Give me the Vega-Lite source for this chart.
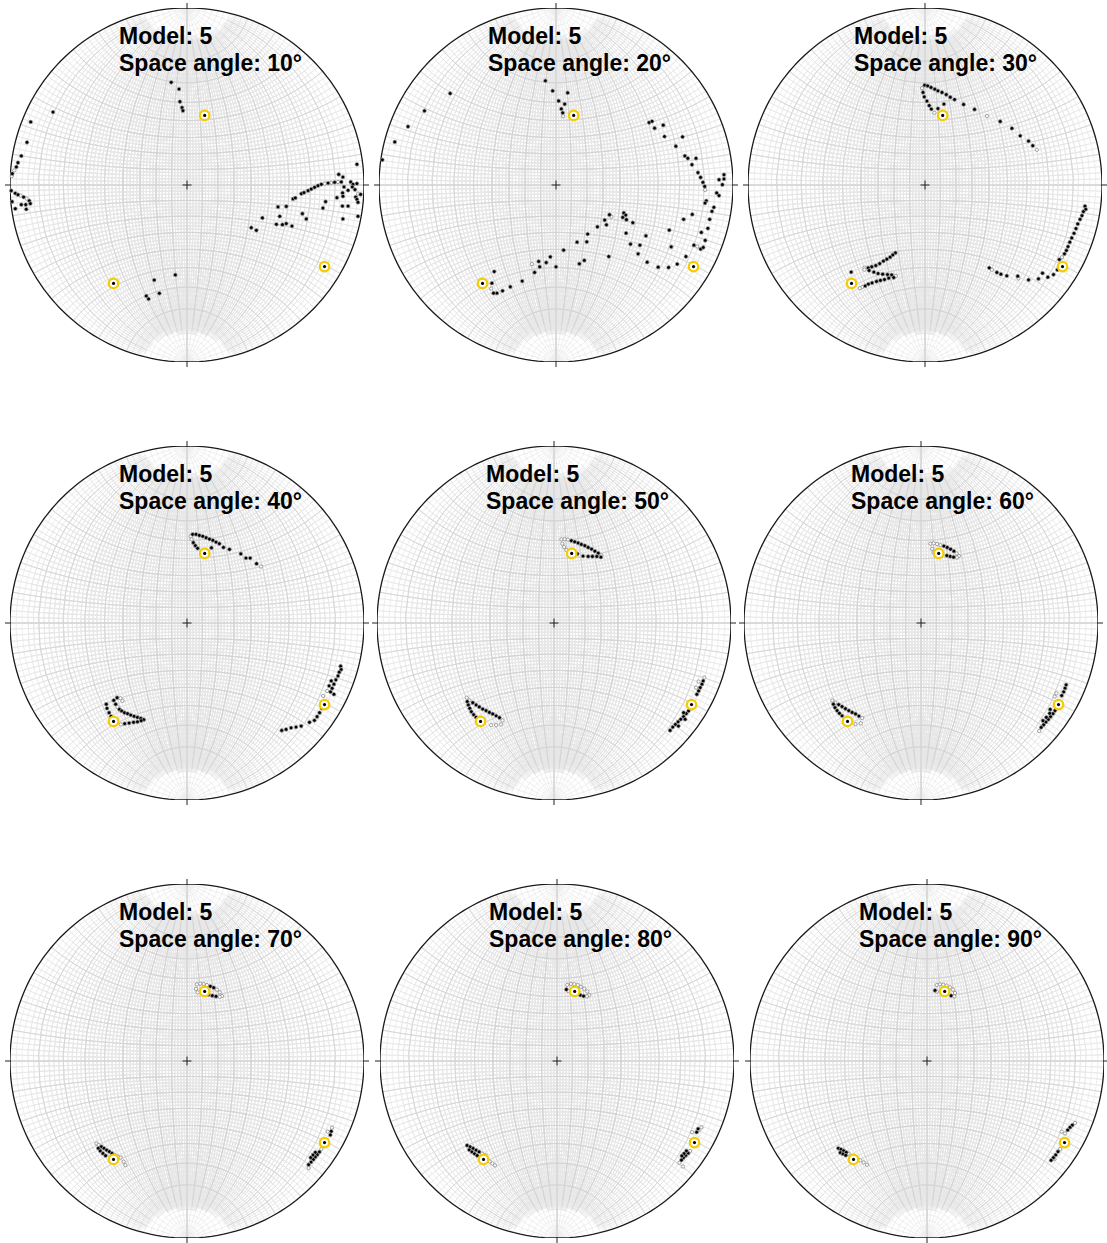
{
  "$schema": "https://vega.github.io/schema/vega-lite/v6.json",
  "background": "white",
  "padding": {"left": 3, "top": 1, "right": 0, "bottom": 0},
  "config": {"view": {"stroke": null}},
  "datasets": {
    "targets": [
      {"x": 0.100, "y": 0.393},
      {"x": -0.415, "y": -0.556},
      {"x": 0.777, "y": -0.461}
    ],
    "frame": [
      {"d": "N", "x": 0, "y": 1},
      {"d": "S", "x": 0, "y": -1},
      {"d": "W", "x": -1, "y": 0},
      {"d": "E", "x": 1, "y": 0},
      {"d": "C", "x": 0, "y": 0}
    ],
    "pts": [
      {"p":10,"x":-0.089,"y":0.580,"k":"b"},{"p":10,"x":-0.045,"y":0.542,"k":"b"},{"p":10,"x":-0.040,"y":0.471,"k":"b"},{"p":10,"x":-0.028,"y":0.437,"k":"b"},{"p":10,"x":-0.023,"y":0.420,"k":"b"},
      {"p":10,"x":-0.757,"y":0.412,"k":"b"},{"p":10,"x":-0.883,"y":0.356,"k":"b"},{"p":10,"x":-0.904,"y":0.241,"k":"b"},{"p":10,"x":-0.936,"y":0.164,"k":"b"},{"p":10,"x":-0.955,"y":0.126,"k":"b"},{"p":10,"x":-0.964,"y":0.102,"k":"b"},{"p":10,"x":-0.976,"y":0.083,"k":"g"},{"p":10,"x":-0.987,"y":0.064,"k":"b"},{"p":10,"x":-0.990,"y":0.050,"k":"g"},
      {"p":10,"x":-0.993,"y":-0.032,"k":"b"},{"p":10,"x":-0.970,"y":-0.047,"k":"b"},{"p":10,"x":-0.955,"y":-0.055,"k":"b"},{"p":10,"x":-0.940,"y":-0.060,"k":"g"},{"p":10,"x":-0.923,"y":-0.068,"k":"b"},{"p":10,"x":-0.906,"y":-0.077,"k":"g"},{"p":10,"x":-0.891,"y":-0.089,"k":"b"},{"p":10,"x":-0.885,"y":-0.105,"k":"b"},{"p":10,"x":-0.911,"y":-0.111,"k":"b"},{"p":10,"x":-0.936,"y":-0.111,"k":"b"},{"p":10,"x":-0.908,"y":-0.137,"k":"b"},{"p":10,"x":-0.970,"y":-0.134,"k":"b"},{"p":10,"x":-0.988,"y":-0.094,"k":"b"},
      {"p":10,"x":0.960,"y":0.117,"k":"b"},{"p":10,"x":0.599,"y":-0.079,"k":"b"},{"p":10,"x":0.612,"y":-0.073,"k":"b"},{"p":10,"x":0.646,"y":-0.049,"k":"b"},{"p":10,"x":0.661,"y":-0.043,"k":"b"},{"p":10,"x":0.684,"y":-0.032,"k":"b"},{"p":10,"x":0.702,"y":-0.023,"k":"b"},{"p":10,"x":0.721,"y":-0.013,"k":"b"},{"p":10,"x":0.740,"y":-0.004,"k":"b"},{"p":10,"x":0.759,"y":0.004,"k":"b"},{"p":10,"x":0.778,"y":0.008,"k":"g"},{"p":10,"x":0.797,"y":0.011,"k":"b"},{"p":10,"x":0.815,"y":0.013,"k":"g"},{"p":10,"x":0.834,"y":0.015,"k":"b"},{"p":10,"x":0.853,"y":0.017,"k":"g"},{"p":10,"x":0.872,"y":0.017,"k":"b"},
      {"p":10,"x":0.857,"y":0.060,"k":"b"},{"p":10,"x":0.881,"y":0.045,"k":"b"},{"p":10,"x":0.925,"y":0.017,"k":"b"},{"p":10,"x":0.938,"y":0.004,"k":"b"},{"p":10,"x":0.960,"y":0.008,"k":"b"},{"p":10,"x":0.934,"y":-0.011,"k":"b"},{"p":10,"x":0.949,"y":-0.026,"k":"b"},{"p":10,"x":0.966,"y":-0.049,"k":"g"},{"p":10,"x":0.981,"y":-0.053,"k":"b"},{"p":10,"x":0.953,"y":-0.068,"k":"b"},{"p":10,"x":0.960,"y":-0.081,"k":"b"},{"p":10,"x":0.966,"y":-0.098,"k":"b"},{"p":10,"x":0.966,"y":-0.177,"k":"b"},
      {"p":10,"x":0.887,"y":-0.011,"k":"b"},{"p":10,"x":0.910,"y":-0.030,"k":"b"},{"p":10,"x":0.879,"y":-0.045,"k":"b"},{"p":10,"x":0.847,"y":-0.072,"k":"b"},{"p":10,"x":0.881,"y":-0.064,"k":"b"},{"p":10,"x":0.783,"y":-0.094,"k":"b"},{"p":10,"x":0.768,"y":-0.130,"k":"b"},{"p":10,"x":0.878,"y":-0.119,"k":"b"},{"p":10,"x":0.910,"y":-0.119,"k":"b"},{"p":10,"x":0.881,"y":-0.192,"k":"b"},
      {"p":10,"x":0.514,"y":-0.124,"k":"b"},{"p":10,"x":0.561,"y":-0.121,"k":"b"},{"p":10,"x":0.524,"y":-0.177,"k":"b"},{"p":10,"x":0.652,"y":-0.162,"k":"b"},{"p":10,"x":0.674,"y":-0.192,"k":"b"},{"p":10,"x":0.505,"y":-0.222,"k":"b"},{"p":10,"x":0.539,"y":-0.224,"k":"b"},{"p":10,"x":0.561,"y":-0.218,"k":"b"},{"p":10,"x":0.593,"y":-0.232,"k":"b"},{"p":10,"x":0.426,"y":-0.186,"k":"b"},{"p":10,"x":0.363,"y":-0.241,"k":"b"},{"p":10,"x":0.392,"y":-0.256,"k":"b"},
      {"p":10,"x":-0.066,"y":-0.508,"k":"b"},{"p":10,"x":-0.185,"y":-0.537,"k":"b"},{"p":10,"x":-0.156,"y":-0.612,"k":"b"},{"p":10,"x":-0.230,"y":-0.627,"k":"b"},{"p":10,"x":-0.217,"y":-0.644,"k":"b"},

      {"p":20,"x":-0.060,"y":0.589,"k":"b"},{"p":20,"x":-0.019,"y":0.532,"k":"b"},{"p":20,"x":0.066,"y":0.521,"k":"b"},{"p":20,"x":0.015,"y":0.475,"k":"b"},{"p":20,"x":0.049,"y":0.457,"k":"b"},{"p":20,"x":0.030,"y":0.430,"k":"b"},{"p":20,"x":0.038,"y":0.408,"k":"b"},{"p":20,"x":0.040,"y":0.389,"k":"g"},
      {"p":20,"x":-0.598,"y":0.517,"k":"b"},{"p":20,"x":-0.743,"y":0.419,"k":"b"},{"p":20,"x":-0.836,"y":0.330,"k":"b"},{"p":20,"x":-0.911,"y":0.243,"k":"b"},{"p":20,"x":-0.981,"y":0.142,"k":"b"},
      {"p":20,"x":0.526,"y":0.353,"k":"b"},{"p":20,"x":0.543,"y":0.360,"k":"b"},{"p":20,"x":0.557,"y":0.321,"k":"b"},{"p":20,"x":0.606,"y":0.338,"k":"b"},{"p":20,"x":0.613,"y":0.274,"k":"b"},{"p":20,"x":0.715,"y":0.272,"k":"b"},{"p":20,"x":0.677,"y":0.219,"k":"b"},{"p":20,"x":0.728,"y":0.164,"k":"b"},{"p":20,"x":0.745,"y":0.151,"k":"b"},{"p":20,"x":0.791,"y":0.151,"k":"b"},{"p":20,"x":0.768,"y":0.115,"k":"b"},{"p":20,"x":0.802,"y":0.070,"k":"b"},{"p":20,"x":0.817,"y":0.043,"k":"b"},{"p":20,"x":0.830,"y":0.015,"k":"b"},{"p":20,"x":0.840,"y":-0.008,"k":"b"},{"p":20,"x":0.843,"y":-0.028,"k":"g"},{"p":20,"x":0.849,"y":-0.089,"k":"b"},{"p":20,"x":0.842,"y":-0.102,"k":"b"},{"p":20,"x":0.892,"y":-0.126,"k":"b"},{"p":20,"x":0.881,"y":-0.149,"k":"b"},
      {"p":20,"x":0.949,"y":0.058,"k":"b"},{"p":20,"x":0.949,"y":0.034,"k":"b"},{"p":20,"x":0.921,"y":0.030,"k":"b"},{"p":20,"x":0.940,"y":0.002,"k":"b"},{"p":20,"x":0.908,"y":-0.045,"k":"b"},{"p":20,"x":0.921,"y":-0.060,"k":"b"},
      {"p":20,"x":0.721,"y":-0.194,"k":"b"},{"p":20,"x":0.770,"y":-0.166,"k":"b"},{"p":20,"x":0.868,"y":-0.194,"k":"b"},{"p":20,"x":0.858,"y":-0.245,"k":"b"},{"p":20,"x":0.640,"y":-0.255,"k":"b"},{"p":20,"x":0.843,"y":-0.313,"k":"b"},{"p":20,"x":0.821,"y":-0.268,"k":"b"},{"p":20,"x":0.779,"y":-0.340,"k":"b"},{"p":20,"x":0.798,"y":-0.347,"k":"g"},{"p":20,"x":0.817,"y":-0.362,"k":"b"},{"p":20,"x":0.832,"y":-0.353,"k":"b"},{"p":20,"x":0.651,"y":-0.349,"k":"b"},{"p":20,"x":0.734,"y":-0.404,"k":"b"},{"p":20,"x":0.685,"y":-0.447,"k":"b"},{"p":20,"x":0.636,"y":-0.466,"k":"b"},{"p":20,"x":0.577,"y":-0.464,"k":"b"},{"p":20,"x":0.515,"y":-0.436,"k":"b"},
      {"p":20,"x":0.302,"y":-0.168,"k":"b"},{"p":20,"x":0.313,"y":-0.179,"k":"g"},{"p":20,"x":0.383,"y":-0.158,"k":"b"},{"p":20,"x":0.394,"y":-0.170,"k":"b"},{"p":20,"x":0.377,"y":-0.183,"k":"b"},{"p":20,"x":0.398,"y":-0.196,"k":"b"},{"p":20,"x":0.275,"y":-0.198,"k":"b"},{"p":20,"x":0.285,"y":-0.225,"k":"b"},{"p":20,"x":0.234,"y":-0.236,"k":"b"},{"p":20,"x":0.434,"y":-0.213,"k":"b"},{"p":20,"x":0.396,"y":-0.272,"k":"b"},{"p":20,"x":0.508,"y":-0.287,"k":"b"},{"p":20,"x":0.421,"y":-0.334,"k":"b"},{"p":20,"x":0.474,"y":-0.340,"k":"b"},{"p":20,"x":0.464,"y":-0.389,"k":"b"},
      {"p":20,"x":0.179,"y":-0.277,"k":"b"},{"p":20,"x":0.119,"y":-0.323,"k":"b"},{"p":20,"x":0.174,"y":-0.321,"k":"b"},{"p":20,"x":0.298,"y":-0.404,"k":"b"},{"p":20,"x":0.160,"y":-0.426,"k":"b"},{"p":20,"x":0.132,"y":-0.445,"k":"b"},{"p":20,"x":0.043,"y":-0.368,"k":"b"},{"p":20,"x":-0.032,"y":-0.406,"k":"b"},{"p":20,"x":-0.055,"y":-0.438,"k":"b"},{"p":20,"x":0.000,"y":-0.462,"k":"b"},{"p":20,"x":-0.092,"y":-0.462,"k":"b"},{"p":20,"x":-0.136,"y":-0.447,"k":"g"},{"p":20,"x":-0.098,"y":-0.432,"k":"b"},{"p":20,"x":-0.121,"y":-0.494,"k":"b"},{"p":20,"x":-0.191,"y":-0.543,"k":"b"},{"p":20,"x":-0.258,"y":-0.575,"k":"b"},{"p":20,"x":-0.302,"y":-0.598,"k":"b"},{"p":20,"x":-0.334,"y":-0.611,"k":"b"},{"p":20,"x":-0.353,"y":-0.611,"k":"b"},{"p":20,"x":-0.366,"y":-0.585,"k":"g"},{"p":20,"x":-0.362,"y":-0.555,"k":"b"},{"p":20,"x":-0.349,"y":-0.489,"k":"b"},

      {"p":30,"x":-0.017,"y":0.547,"k":"g"},{"p":30,"x":-0.002,"y":0.564,"k":"b"},{"p":30,"x":0.015,"y":0.560,"k":"b"},{"p":30,"x":0.034,"y":0.551,"k":"b"},{"p":30,"x":0.055,"y":0.541,"k":"b"},{"p":30,"x":0.073,"y":0.532,"k":"b"},{"p":30,"x":0.096,"y":0.523,"k":"b"},{"p":30,"x":0.120,"y":0.511,"k":"b"},{"p":30,"x":0.143,"y":0.496,"k":"b"},{"p":30,"x":0.167,"y":0.483,"k":"b"},{"p":30,"x":0.218,"y":0.455,"k":"b"},{"p":30,"x":0.280,"y":0.427,"k":"b"},{"p":30,"x":0.350,"y":0.389,"k":"g"},{"p":30,"x":0.425,"y":0.359,"k":"b"},{"p":30,"x":0.491,"y":0.320,"k":"b"},{"p":30,"x":0.538,"y":0.278,"k":"b"},{"p":30,"x":0.585,"y":0.248,"k":"b"},{"p":30,"x":0.609,"y":0.222,"k":"b"},{"p":30,"x":0.632,"y":0.199,"k":"g"},
      {"p":30,"x":-0.011,"y":0.523,"k":"b"},{"p":30,"x":-0.004,"y":0.498,"k":"b"},{"p":30,"x":0.011,"y":0.474,"k":"b"},{"p":30,"x":0.024,"y":0.449,"k":"b"},{"p":30,"x":0.036,"y":0.429,"k":"b"},{"p":30,"x":0.053,"y":0.408,"k":"g"},{"p":30,"x":0.107,"y":0.457,"k":"b"},{"p":30,"x":0.073,"y":0.432,"k":"b"},
      {"p":30,"x":-0.167,"y":-0.383,"k":"b"},{"p":30,"x":-0.182,"y":-0.395,"k":"b"},{"p":30,"x":-0.197,"y":-0.408,"k":"b"},{"p":30,"x":-0.216,"y":-0.419,"k":"b"},{"p":30,"x":-0.235,"y":-0.430,"k":"b"},{"p":30,"x":-0.256,"y":-0.444,"k":"b"},{"p":30,"x":-0.278,"y":-0.455,"k":"b"},{"p":30,"x":-0.301,"y":-0.462,"k":"b"},{"p":30,"x":-0.321,"y":-0.468,"k":"b"},{"p":30,"x":-0.342,"y":-0.466,"k":"g"},{"p":30,"x":-0.417,"y":-0.492,"k":"b"},
      {"p":30,"x":-0.342,"y":-0.478,"k":"g"},{"p":30,"x":-0.316,"y":-0.483,"k":"b"},{"p":30,"x":-0.289,"y":-0.492,"k":"b"},{"p":30,"x":-0.265,"y":-0.500,"k":"b"},{"p":30,"x":-0.239,"y":-0.504,"k":"b"},{"p":30,"x":-0.212,"y":-0.506,"k":"b"},{"p":30,"x":-0.188,"y":-0.508,"k":"b"},{"p":30,"x":-0.165,"y":-0.513,"k":"g"},
      {"p":30,"x":-0.177,"y":-0.523,"k":"b"},{"p":30,"x":-0.205,"y":-0.526,"k":"b"},{"p":30,"x":-0.229,"y":-0.534,"k":"b"},{"p":30,"x":-0.252,"y":-0.539,"k":"b"},{"p":30,"x":-0.274,"y":-0.545,"k":"b"},{"p":30,"x":-0.299,"y":-0.553,"k":"b"},{"p":30,"x":-0.320,"y":-0.560,"k":"b"},{"p":30,"x":-0.338,"y":-0.570,"k":"b"},{"p":30,"x":-0.355,"y":-0.577,"k":"g"},{"p":30,"x":-0.368,"y":-0.583,"k":"g"},
      {"p":30,"x":0.904,"y":-0.120,"k":"b"},{"p":30,"x":0.908,"y":-0.137,"k":"b"},{"p":30,"x":0.895,"y":-0.150,"k":"b"},{"p":30,"x":0.887,"y":-0.173,"k":"b"},{"p":30,"x":0.876,"y":-0.194,"k":"b"},{"p":30,"x":0.863,"y":-0.220,"k":"b"},{"p":30,"x":0.853,"y":-0.246,"k":"b"},{"p":30,"x":0.842,"y":-0.273,"k":"b"},{"p":30,"x":0.829,"y":-0.299,"k":"b"},{"p":30,"x":0.818,"y":-0.323,"k":"b"},{"p":30,"x":0.808,"y":-0.348,"k":"b"},{"p":30,"x":0.799,"y":-0.370,"k":"b"},{"p":30,"x":0.788,"y":-0.389,"k":"b"},{"p":30,"x":0.774,"y":-0.408,"k":"g"},{"p":30,"x":0.759,"y":-0.421,"k":"b"},
      {"p":30,"x":0.363,"y":-0.468,"k":"b"},{"p":30,"x":0.378,"y":-0.479,"k":"g"},{"p":30,"x":0.406,"y":-0.494,"k":"b"},{"p":30,"x":0.429,"y":-0.504,"k":"b"},{"p":30,"x":0.462,"y":-0.513,"k":"b"},{"p":30,"x":0.524,"y":-0.515,"k":"b"},{"p":30,"x":0.528,"y":-0.528,"k":"g"},{"p":30,"x":0.585,"y":-0.536,"k":"b"},{"p":30,"x":0.641,"y":-0.530,"k":"b"},{"p":30,"x":0.664,"y":-0.498,"k":"b"},{"p":30,"x":0.694,"y":-0.521,"k":"b"},{"p":30,"x":0.726,"y":-0.506,"k":"b"},{"p":30,"x":0.748,"y":-0.479,"k":"b"},

      {"p":40,"x":0.021,"y":0.490,"k":"g"},{"p":40,"x":0.032,"y":0.501,"k":"b"},{"p":40,"x":0.051,"y":0.501,"k":"b"},{"p":40,"x":0.070,"y":0.495,"k":"b"},{"p":40,"x":0.089,"y":0.490,"k":"b"},{"p":40,"x":0.108,"y":0.482,"k":"b"},{"p":40,"x":0.127,"y":0.474,"k":"b"},{"p":40,"x":0.146,"y":0.467,"k":"b"},{"p":40,"x":0.164,"y":0.457,"k":"b"},{"p":40,"x":0.183,"y":0.448,"k":"b"},{"p":40,"x":0.206,"y":0.427,"k":"b"},{"p":40,"x":0.240,"y":0.416,"k":"b"},{"p":40,"x":0.304,"y":0.391,"k":"b"},{"p":40,"x":0.333,"y":0.367,"k":"b"},{"p":40,"x":0.357,"y":0.367,"k":"b"},{"p":40,"x":0.393,"y":0.335,"k":"b"},{"p":40,"x":0.418,"y":0.319,"k":"g"},
      {"p":40,"x":0.026,"y":0.473,"k":"g"},{"p":40,"x":0.036,"y":0.454,"k":"b"},{"p":40,"x":0.047,"y":0.437,"k":"b"},{"p":40,"x":0.060,"y":0.422,"k":"b"},{"p":40,"x":0.138,"y":0.425,"k":"b"},
      {"p":40,"x":-0.456,"y":-0.459,"k":"b"},{"p":40,"x":-0.452,"y":-0.482,"k":"b"},{"p":40,"x":-0.440,"y":-0.507,"k":"b"},{"p":40,"x":-0.429,"y":-0.527,"k":"b"},{"p":40,"x":-0.414,"y":-0.437,"k":"b"},{"p":40,"x":-0.395,"y":-0.422,"k":"b"},{"p":40,"x":-0.376,"y":-0.425,"k":"g"},{"p":40,"x":-0.365,"y":-0.440,"k":"g"},
      {"p":40,"x":-0.403,"y":-0.459,"k":"b"},{"p":40,"x":-0.393,"y":-0.474,"k":"g"},{"p":40,"x":-0.382,"y":-0.488,"k":"b"},{"p":40,"x":-0.369,"y":-0.497,"k":"b"},{"p":40,"x":-0.353,"y":-0.507,"k":"b"},{"p":40,"x":-0.336,"y":-0.512,"k":"b"},{"p":40,"x":-0.318,"y":-0.520,"k":"b"},{"p":40,"x":-0.299,"y":-0.527,"k":"b"},{"p":40,"x":-0.280,"y":-0.533,"k":"b"},{"p":40,"x":-0.261,"y":-0.539,"k":"b"},{"p":40,"x":-0.244,"y":-0.546,"k":"b"},
      {"p":40,"x":-0.374,"y":-0.573,"k":"g"},{"p":40,"x":-0.352,"y":-0.569,"k":"b"},{"p":40,"x":-0.327,"y":-0.565,"k":"b"},{"p":40,"x":-0.302,"y":-0.561,"k":"b"},{"p":40,"x":-0.280,"y":-0.558,"k":"b"},{"p":40,"x":-0.259,"y":-0.552,"k":"b"},
      {"p":40,"x":0.868,"y":-0.244,"k":"b"},{"p":40,"x":0.871,"y":-0.263,"k":"b"},{"p":40,"x":0.860,"y":-0.278,"k":"b"},{"p":40,"x":0.853,"y":-0.299,"k":"b"},{"p":40,"x":0.841,"y":-0.321,"k":"b"},{"p":40,"x":0.830,"y":-0.346,"k":"b"},{"p":40,"x":0.820,"y":-0.369,"k":"b"},{"p":40,"x":0.811,"y":-0.389,"k":"b"},{"p":40,"x":0.815,"y":-0.327,"k":"b"},{"p":40,"x":0.803,"y":-0.355,"k":"b"},{"p":40,"x":0.792,"y":-0.384,"k":"g"},{"p":40,"x":0.830,"y":-0.403,"k":"b"},{"p":40,"x":0.769,"y":-0.412,"k":"g"},
      {"p":40,"x":0.762,"y":-0.482,"k":"b"},{"p":40,"x":0.749,"y":-0.507,"k":"b"},{"p":40,"x":0.735,"y":-0.529,"k":"b"},{"p":40,"x":0.720,"y":-0.550,"k":"b"},{"p":40,"x":0.692,"y":-0.561,"k":"b"},{"p":40,"x":0.645,"y":-0.582,"k":"b"},{"p":40,"x":0.616,"y":-0.588,"k":"b"},{"p":40,"x":0.588,"y":-0.592,"k":"b"},{"p":40,"x":0.560,"y":-0.601,"k":"b"},{"p":40,"x":0.535,"y":-0.607,"k":"b"},

      {"p":50,"x":0.042,"y":0.473,"k":"g"},{"p":50,"x":0.060,"y":0.474,"k":"g"},{"p":50,"x":0.079,"y":0.471,"k":"g"},{"p":50,"x":0.098,"y":0.465,"k":"b"},{"p":50,"x":0.117,"y":0.459,"k":"b"},{"p":50,"x":0.136,"y":0.452,"k":"b"},{"p":50,"x":0.155,"y":0.444,"k":"b"},{"p":50,"x":0.174,"y":0.437,"k":"b"},{"p":50,"x":0.193,"y":0.427,"k":"b"},{"p":50,"x":0.212,"y":0.418,"k":"b"},{"p":50,"x":0.231,"y":0.406,"k":"b"},{"p":50,"x":0.250,"y":0.395,"k":"b"},{"p":50,"x":0.267,"y":0.382,"k":"g"},
      {"p":50,"x":0.047,"y":0.448,"k":"g"},{"p":50,"x":0.057,"y":0.429,"k":"g"},{"p":50,"x":0.070,"y":0.412,"k":"g"},{"p":50,"x":0.132,"y":0.391,"k":"b"},{"p":50,"x":0.164,"y":0.378,"k":"b"},{"p":50,"x":0.193,"y":0.376,"k":"b"},{"p":50,"x":0.217,"y":0.376,"k":"b"},{"p":50,"x":0.242,"y":0.376,"k":"b"},{"p":50,"x":0.265,"y":0.372,"k":"b"},
      {"p":50,"x":-0.493,"y":-0.422,"k":"g"},{"p":50,"x":-0.478,"y":-0.437,"k":"g"},{"p":50,"x":-0.459,"y":-0.450,"k":"b"},{"p":50,"x":-0.440,"y":-0.463,"k":"b"},{"p":50,"x":-0.422,"y":-0.474,"k":"b"},{"p":50,"x":-0.403,"y":-0.486,"k":"b"},{"p":50,"x":-0.384,"y":-0.495,"k":"b"},{"p":50,"x":-0.365,"y":-0.505,"k":"b"},{"p":50,"x":-0.346,"y":-0.514,"k":"b"},{"p":50,"x":-0.327,"y":-0.524,"k":"b"},{"p":50,"x":-0.308,"y":-0.535,"k":"b"},{"p":50,"x":-0.291,"y":-0.550,"k":"g"},
      {"p":50,"x":-0.490,"y":-0.444,"k":"b"},{"p":50,"x":-0.484,"y":-0.463,"k":"b"},{"p":50,"x":-0.476,"y":-0.482,"k":"b"},{"p":50,"x":-0.467,"y":-0.501,"k":"b"},{"p":50,"x":-0.454,"y":-0.518,"k":"b"},{"p":50,"x":-0.440,"y":-0.533,"k":"b"},{"p":50,"x":-0.355,"y":-0.577,"k":"g"},{"p":50,"x":-0.327,"y":-0.577,"k":"g"},{"p":50,"x":-0.299,"y":-0.573,"k":"g"},
      {"p":50,"x":0.849,"y":-0.308,"k":"g"},{"p":50,"x":0.843,"y":-0.327,"k":"b"},{"p":50,"x":0.836,"y":-0.346,"k":"b"},{"p":50,"x":0.826,"y":-0.365,"k":"b"},{"p":50,"x":0.817,"y":-0.384,"k":"b"},{"p":50,"x":0.807,"y":-0.403,"k":"b"},{"p":50,"x":0.817,"y":-0.331,"k":"g"},{"p":50,"x":0.803,"y":-0.365,"k":"g"},
      {"p":50,"x":0.779,"y":-0.482,"k":"b"},{"p":50,"x":0.760,"y":-0.497,"k":"b"},{"p":50,"x":0.747,"y":-0.512,"k":"b"},{"p":50,"x":0.732,"y":-0.529,"k":"b"},{"p":50,"x":0.716,"y":-0.544,"k":"b"},{"p":50,"x":0.701,"y":-0.558,"k":"b"},{"p":50,"x":0.686,"y":-0.573,"k":"b"},{"p":50,"x":0.671,"y":-0.588,"k":"b"},{"p":50,"x":0.656,"y":-0.607,"k":"b"},{"p":50,"x":0.732,"y":-0.507,"k":"b"},{"p":50,"x":0.741,"y":-0.544,"k":"b"},{"p":50,"x":0.703,"y":-0.582,"k":"b"},

      {"p":60,"x":0.053,"y":0.448,"k":"g"},{"p":60,"x":0.072,"y":0.450,"k":"g"},{"p":60,"x":0.091,"y":0.446,"k":"g"},{"p":60,"x":0.110,"y":0.440,"k":"g"},{"p":60,"x":0.129,"y":0.435,"k":"b"},{"p":60,"x":0.148,"y":0.427,"k":"b"},{"p":60,"x":0.167,"y":0.417,"k":"b"},{"p":60,"x":0.186,"y":0.406,"k":"b"},{"p":60,"x":0.201,"y":0.393,"k":"g"},{"p":60,"x":0.214,"y":0.378,"k":"g"},
      {"p":60,"x":0.063,"y":0.419,"k":"g"},{"p":60,"x":0.072,"y":0.397,"k":"g"},{"p":60,"x":0.146,"y":0.381,"k":"b"},{"p":60,"x":0.165,"y":0.376,"k":"b"},{"p":60,"x":0.184,"y":0.372,"k":"b"},{"p":60,"x":0.203,"y":0.370,"k":"g"},
      {"p":60,"x":-0.501,"y":-0.438,"k":"g"},{"p":60,"x":-0.484,"y":-0.450,"k":"g"},{"p":60,"x":-0.465,"y":-0.461,"k":"b"},{"p":60,"x":-0.446,"y":-0.472,"k":"b"},{"p":60,"x":-0.427,"y":-0.484,"k":"b"},{"p":60,"x":-0.408,"y":-0.495,"k":"b"},{"p":60,"x":-0.389,"y":-0.505,"k":"b"},{"p":60,"x":-0.370,"y":-0.514,"k":"b"},{"p":60,"x":-0.351,"y":-0.526,"k":"b"},{"p":60,"x":-0.332,"y":-0.537,"k":"g"},
      {"p":60,"x":-0.495,"y":-0.459,"k":"b"},{"p":60,"x":-0.486,"y":-0.478,"k":"b"},{"p":60,"x":-0.474,"y":-0.495,"k":"b"},{"p":60,"x":-0.461,"y":-0.510,"k":"b"},{"p":60,"x":-0.446,"y":-0.524,"k":"b"},{"p":60,"x":-0.370,"y":-0.571,"k":"g"},{"p":60,"x":-0.340,"y":-0.567,"k":"g"},
      {"p":60,"x":0.820,"y":-0.349,"k":"b"},{"p":60,"x":0.814,"y":-0.368,"k":"b"},{"p":60,"x":0.806,"y":-0.389,"k":"b"},{"p":60,"x":0.795,"y":-0.410,"k":"b"},{"p":60,"x":0.765,"y":-0.397,"k":"g"},{"p":60,"x":0.755,"y":-0.416,"k":"g"},
      {"p":60,"x":0.757,"y":-0.495,"k":"b"},{"p":60,"x":0.746,"y":-0.512,"k":"b"},{"p":60,"x":0.732,"y":-0.529,"k":"b"},{"p":60,"x":0.719,"y":-0.545,"k":"b"},{"p":60,"x":0.706,"y":-0.560,"k":"b"},{"p":60,"x":0.693,"y":-0.575,"k":"b"},{"p":60,"x":0.679,"y":-0.590,"k":"b"},{"p":60,"x":0.668,"y":-0.611,"k":"g"},{"p":60,"x":0.727,"y":-0.510,"k":"b"},{"p":60,"x":0.708,"y":-0.533,"k":"b"},{"p":60,"x":0.689,"y":-0.552,"k":"b"},{"p":60,"x":0.730,"y":-0.488,"k":"b"},

      {"p":70,"x":0.056,"y":0.433,"k":"g"},{"p":70,"x":0.075,"y":0.437,"k":"g"},{"p":70,"x":0.094,"y":0.435,"k":"g"},{"p":70,"x":0.113,"y":0.429,"k":"g"},{"p":70,"x":0.132,"y":0.422,"k":"b"},{"p":70,"x":0.151,"y":0.414,"k":"b"},{"p":70,"x":0.169,"y":0.403,"k":"g"},{"p":70,"x":0.185,"y":0.388,"k":"g"},{"p":70,"x":0.198,"y":0.367,"k":"g"},
      {"p":70,"x":0.051,"y":0.407,"k":"g"},{"p":70,"x":0.060,"y":0.388,"k":"g"},{"p":70,"x":0.122,"y":0.375,"k":"b"},{"p":70,"x":0.143,"y":0.369,"k":"b"},{"p":70,"x":0.164,"y":0.365,"k":"b"},{"p":70,"x":0.185,"y":0.362,"k":"g"},
      {"p":70,"x":-0.512,"y":-0.467,"k":"g"},{"p":70,"x":-0.499,"y":-0.475,"k":"g"},{"p":70,"x":-0.484,"y":-0.484,"k":"b"},{"p":70,"x":-0.469,"y":-0.493,"k":"b"},{"p":70,"x":-0.454,"y":-0.503,"k":"b"},{"p":70,"x":-0.439,"y":-0.512,"k":"b"},{"p":70,"x":-0.424,"y":-0.522,"k":"b"},{"p":70,"x":-0.409,"y":-0.531,"k":"g"},{"p":70,"x":-0.392,"y":-0.539,"k":"g"},{"p":70,"x":-0.375,"y":-0.546,"k":"g"},
      {"p":70,"x":-0.501,"y":-0.493,"k":"b"},{"p":70,"x":-0.490,"y":-0.508,"k":"b"},{"p":70,"x":-0.475,"y":-0.522,"k":"b"},{"p":70,"x":-0.460,"y":-0.535,"k":"b"},{"p":70,"x":-0.358,"y":-0.569,"k":"g"},{"p":70,"x":-0.348,"y":-0.588,"k":"g"},
      {"p":70,"x":0.819,"y":-0.377,"k":"g"},{"p":70,"x":0.815,"y":-0.397,"k":"b"},{"p":70,"x":0.810,"y":-0.418,"k":"b"},{"p":70,"x":0.795,"y":-0.399,"k":"g"},
      {"p":70,"x":0.759,"y":-0.497,"k":"g"},{"p":70,"x":0.748,"y":-0.514,"k":"b"},{"p":70,"x":0.736,"y":-0.529,"k":"b"},{"p":70,"x":0.725,"y":-0.542,"k":"b"},{"p":70,"x":0.714,"y":-0.556,"k":"b"},{"p":70,"x":0.701,"y":-0.571,"k":"b"},{"p":70,"x":0.687,"y":-0.586,"k":"b"},{"p":70,"x":0.687,"y":-0.605,"k":"g"},{"p":70,"x":0.725,"y":-0.516,"k":"b"},{"p":70,"x":0.712,"y":-0.531,"k":"b"},{"p":70,"x":0.699,"y":-0.546,"k":"b"},

      {"p":80,"x":0.058,"y":0.430,"k":"g"},{"p":80,"x":0.079,"y":0.436,"k":"g"},{"p":80,"x":0.098,"y":0.434,"k":"g"},{"p":80,"x":0.117,"y":0.429,"k":"g"},{"p":80,"x":0.135,"y":0.419,"k":"g"},{"p":80,"x":0.154,"y":0.408,"k":"g"},{"p":80,"x":0.171,"y":0.393,"k":"g"},{"p":80,"x":0.182,"y":0.372,"k":"g"},
      {"p":80,"x":0.053,"y":0.404,"k":"b"},{"p":80,"x":0.064,"y":0.395,"k":"g"},{"p":80,"x":0.132,"y":0.372,"k":"b"},{"p":80,"x":0.150,"y":0.367,"k":"b"},{"p":80,"x":0.169,"y":0.365,"k":"g"},
      {"p":80,"x":-0.508,"y":-0.477,"k":"b"},{"p":80,"x":-0.491,"y":-0.485,"k":"b"},{"p":80,"x":-0.474,"y":-0.494,"k":"b"},{"p":80,"x":-0.457,"y":-0.504,"k":"b"},{"p":80,"x":-0.440,"y":-0.513,"k":"b"},{"p":80,"x":-0.423,"y":-0.523,"k":"g"},{"p":80,"x":-0.404,"y":-0.532,"k":"g"},
      {"p":80,"x":-0.496,"y":-0.502,"k":"b"},{"p":80,"x":-0.481,"y":-0.513,"k":"b"},{"p":80,"x":-0.466,"y":-0.524,"k":"b"},{"p":80,"x":-0.451,"y":-0.534,"k":"b"},{"p":80,"x":-0.380,"y":-0.568,"k":"g"},{"p":80,"x":-0.365,"y":-0.579,"k":"g"},{"p":80,"x":-0.350,"y":-0.590,"k":"g"},
      {"p":80,"x":0.816,"y":-0.374,"k":"g"},{"p":80,"x":0.797,"y":-0.383,"k":"b"},{"p":80,"x":0.789,"y":-0.402,"k":"b"},{"p":80,"x":0.763,"y":-0.402,"k":"g"},{"p":80,"x":0.800,"y":-0.392,"k":"g"},
      {"p":80,"x":0.752,"y":-0.508,"k":"g"},{"p":80,"x":0.741,"y":-0.521,"k":"b"},{"p":80,"x":0.727,"y":-0.534,"k":"b"},{"p":80,"x":0.714,"y":-0.547,"k":"b"},{"p":80,"x":0.703,"y":-0.560,"k":"b"},{"p":80,"x":0.692,"y":-0.575,"k":"g"},{"p":80,"x":0.731,"y":-0.508,"k":"b"},{"p":80,"x":0.718,"y":-0.523,"k":"b"},{"p":80,"x":0.705,"y":-0.536,"k":"b"},{"p":80,"x":0.712,"y":-0.596,"k":"g"},

      {"p":90,"x":0.055,"y":0.429,"k":"g"},{"p":90,"x":0.073,"y":0.433,"k":"g"},{"p":90,"x":0.092,"y":0.431,"k":"g"},{"p":90,"x":0.111,"y":0.426,"k":"g"},{"p":90,"x":0.130,"y":0.416,"k":"g"},{"p":90,"x":0.147,"y":0.403,"k":"g"},{"p":90,"x":0.158,"y":0.384,"k":"g"},
      {"p":90,"x":0.045,"y":0.399,"k":"b"},{"p":90,"x":0.056,"y":0.392,"k":"g"},{"p":90,"x":0.136,"y":0.369,"k":"b"},{"p":90,"x":0.154,"y":0.365,"k":"g"},
      {"p":90,"x":-0.501,"y":-0.493,"k":"b"},{"p":90,"x":-0.486,"y":-0.499,"k":"b"},{"p":90,"x":-0.471,"y":-0.507,"k":"b"},{"p":90,"x":-0.456,"y":-0.516,"k":"b"},{"p":90,"x":-0.490,"y":-0.518,"k":"b"},{"p":90,"x":-0.475,"y":-0.525,"k":"b"},{"p":90,"x":-0.459,"y":-0.533,"k":"b"},{"p":90,"x":-0.443,"y":-0.523,"k":"g"},{"p":90,"x":-0.377,"y":-0.561,"k":"g"},{"p":90,"x":-0.358,"y":-0.573,"k":"g"},{"p":90,"x":-0.339,"y":-0.586,"k":"g"},
      {"p":90,"x":0.836,"y":-0.350,"k":"g"},{"p":90,"x":0.821,"y":-0.362,"k":"b"},{"p":90,"x":0.808,"y":-0.375,"k":"b"},{"p":90,"x":0.795,"y":-0.390,"k":"b"},{"p":90,"x":0.780,"y":-0.409,"k":"g"},{"p":90,"x":0.761,"y":-0.399,"k":"g"},
      {"p":90,"x":0.753,"y":-0.497,"k":"g"},{"p":90,"x":0.740,"y":-0.512,"k":"b"},{"p":90,"x":0.727,"y":-0.531,"k":"b"},{"p":90,"x":0.714,"y":-0.546,"k":"b"},{"p":90,"x":0.701,"y":-0.561,"k":"b"},{"p":90,"x":0.720,"y":-0.554,"k":"g"}
    ]
  },
  "spacing": 70,
  "vconcat": [
    {"spacing": 15, "bounds": "flush", "hconcat": [
      {"width":354,"height":354,"title":{"text":["Model: 5","Space angle: 10°"],"anchor":"start","frame":"group","orient":"top","offset":-75,"dx":109,"font":"Liberation Sans","fontSize":23,"fontWeight":"bold","color":"#000000","lineHeight":27.5},
       "layer":[
        {"data":{"graticule":{"stepMinor":[2,2],"extentMinor":[[-90,-75],[90.01,75]]}},"mark":{"type":"geoshape","filled":false,"stroke":"#e6e6e6","strokeWidth":0.7},"projection":{"type":"stereographic","clipAngle":90,"scale":177,"translate":[177,177]}},
        {"data":{"graticule":{"stepMinor":[2,2],"extentMinor":[[-84,-76],[84.01,76]]}},"mark":{"type":"geoshape","filled":false,"stroke":"#e6e6e6","strokeWidth":0.7},"projection":{"type":"stereographic","clipAngle":90,"scale":177,"translate":[177,177]}},
        {"data":{"graticule":{"stepMinor":[2,2],"extentMinor":[[-76,-77],[76.01,77]]}},"mark":{"type":"geoshape","filled":false,"stroke":"#e6e6e6","strokeWidth":0.7},"projection":{"type":"stereographic","clipAngle":90,"scale":177,"translate":[177,177]}},
        {"data":{"graticule":{"stepMinor":[2,2],"extentMinor":[[-60,-78],[60.01,78]]}},"mark":{"type":"geoshape","filled":false,"stroke":"#e6e6e6","strokeWidth":0.7},"projection":{"type":"stereographic","clipAngle":90,"scale":177,"translate":[177,177]}},
        {"data":{"graticule":{"stepMinor":[2,2],"extentMinor":[[-40,-79],[40.01,79]]}},"mark":{"type":"geoshape","filled":false,"stroke":"#e6e6e6","strokeWidth":0.7},"projection":{"type":"stereographic","clipAngle":90,"scale":177,"translate":[177,177]}},
        {"data":{"graticule":{"stepMinor":[2,2],"extentMinor":[[-20,-80.01],[20.01,80.01]]}},"mark":{"type":"geoshape","filled":false,"stroke":"#e6e6e6","strokeWidth":0.7},"projection":{"type":"stereographic","clipAngle":90,"scale":177,"translate":[177,177]}},
        {"data":{"graticule":{"stepMinor":[10,2],"extentMinor":[[-90,-90],[90.01,90]]}},"mark":{"type":"geoshape","filled":false,"stroke":"#e6e6e6","strokeWidth":0.7},"projection":{"type":"stereographic","clipAngle":90,"scale":177,"translate":[177,177]}},
        {"data":{"graticule":{"stepMinor":[10,10],"extentMinor":[[-90,-76],[90.01,76]]}},"mark":{"type":"geoshape","filled":false,"stroke":"#d3d3d3","strokeWidth":0.8},"projection":{"type":"stereographic","clipAngle":90,"scale":177,"translate":[177,177]}},
        {"data":{"graticule":{"stepMinor":[10,10],"extentMinor":[[-40,-79],[40.01,79]]}},"mark":{"type":"geoshape","filled":false,"stroke":"#d3d3d3","strokeWidth":0.8},"projection":{"type":"stereographic","clipAngle":90,"scale":177,"translate":[177,177]}},
        {"data":{"sphere":true},"mark":{"type":"geoshape","filled":false,"stroke":"#1a1a1a","strokeWidth":1.3},"projection":{"type":"stereographic","clipAngle":90,"scale":177,"translate":[177,177]}},
        {"data":{"name":"frame"},"mark":{"type":"point","filled":false,"stroke":"#222222","strokeWidth":1,"size":100,"opacity":1},"encoding":{"x":{"field":"x","type":"quantitative","scale":{"domain":[-1,1],"nice":false,"zero":false},"axis":null},"y":{"field":"y","type":"quantitative","scale":{"domain":[-1,1],"nice":false,"zero":false},"axis":null},"shape":{"field":"d","type":"nominal","scale":{"domain":["N","S","W","E","C"],"range":["M0,0.2L0,-1","M0,-0.2L0,1","M0.2,0L-1,0","M-0.2,0L1,0","M-0.9,0L0.9,0M0,-0.9L0,0.9"]},"legend":null}}},
        {"data":{"name":"pts"},"transform":[{"filter":"datum.p == 10 && datum.k == 'g'"}],"mark":{"type":"point","filled":true,"fill":"#ffffff","stroke":"#8c8c8c","strokeWidth":0.8,"size":11,"opacity":1},"encoding":{"x":{"field":"x","type":"quantitative"},"y":{"field":"y","type":"quantitative"}}},
        {"data":{"name":"pts"},"transform":[{"filter":"datum.p == 10 && datum.k == 'b'"}],"mark":{"type":"point","filled":true,"fill":"#000000","stroke":"#a8a8a8","strokeWidth":0.7,"size":14,"opacity":1},"encoding":{"x":{"field":"x","type":"quantitative"},"y":{"field":"y","type":"quantitative"}}},
        {"data":{"name":"targets"},"mark":{"type":"point","filled":false,"fill":"#ffffff","stroke":"#f5cc00","strokeWidth":2.3,"size":90,"opacity":1},"encoding":{"x":{"field":"x","type":"quantitative"},"y":{"field":"y","type":"quantitative"}}},
        {"data":{"name":"targets"},"mark":{"type":"point","filled":true,"fill":"#000000","size":10,"opacity":1},"encoding":{"x":{"field":"x","type":"quantitative"},"y":{"field":"y","type":"quantitative"}}}
       ]},
      {"width":354,"height":354,"title":{"text":["Model: 5","Space angle: 20°"],"anchor":"start","frame":"group","orient":"top","offset":-75,"dx":109,"font":"Liberation Sans","fontSize":23,"fontWeight":"bold","color":"#000000","lineHeight":27.5},
       "layer":[
        {"data":{"graticule":{"stepMinor":[2,2],"extentMinor":[[-90,-75],[90.01,75]]}},"mark":{"type":"geoshape","filled":false,"stroke":"#e6e6e6","strokeWidth":0.7},"projection":{"type":"stereographic","clipAngle":90,"scale":177,"translate":[177,177]}},
        {"data":{"graticule":{"stepMinor":[2,2],"extentMinor":[[-84,-76],[84.01,76]]}},"mark":{"type":"geoshape","filled":false,"stroke":"#e6e6e6","strokeWidth":0.7},"projection":{"type":"stereographic","clipAngle":90,"scale":177,"translate":[177,177]}},
        {"data":{"graticule":{"stepMinor":[2,2],"extentMinor":[[-76,-77],[76.01,77]]}},"mark":{"type":"geoshape","filled":false,"stroke":"#e6e6e6","strokeWidth":0.7},"projection":{"type":"stereographic","clipAngle":90,"scale":177,"translate":[177,177]}},
        {"data":{"graticule":{"stepMinor":[2,2],"extentMinor":[[-60,-78],[60.01,78]]}},"mark":{"type":"geoshape","filled":false,"stroke":"#e6e6e6","strokeWidth":0.7},"projection":{"type":"stereographic","clipAngle":90,"scale":177,"translate":[177,177]}},
        {"data":{"graticule":{"stepMinor":[2,2],"extentMinor":[[-40,-79],[40.01,79]]}},"mark":{"type":"geoshape","filled":false,"stroke":"#e6e6e6","strokeWidth":0.7},"projection":{"type":"stereographic","clipAngle":90,"scale":177,"translate":[177,177]}},
        {"data":{"graticule":{"stepMinor":[2,2],"extentMinor":[[-20,-80.01],[20.01,80.01]]}},"mark":{"type":"geoshape","filled":false,"stroke":"#e6e6e6","strokeWidth":0.7},"projection":{"type":"stereographic","clipAngle":90,"scale":177,"translate":[177,177]}},
        {"data":{"graticule":{"stepMinor":[10,2],"extentMinor":[[-90,-90],[90.01,90]]}},"mark":{"type":"geoshape","filled":false,"stroke":"#e6e6e6","strokeWidth":0.7},"projection":{"type":"stereographic","clipAngle":90,"scale":177,"translate":[177,177]}},
        {"data":{"graticule":{"stepMinor":[10,10],"extentMinor":[[-90,-76],[90.01,76]]}},"mark":{"type":"geoshape","filled":false,"stroke":"#d3d3d3","strokeWidth":0.8},"projection":{"type":"stereographic","clipAngle":90,"scale":177,"translate":[177,177]}},
        {"data":{"graticule":{"stepMinor":[10,10],"extentMinor":[[-40,-79],[40.01,79]]}},"mark":{"type":"geoshape","filled":false,"stroke":"#d3d3d3","strokeWidth":0.8},"projection":{"type":"stereographic","clipAngle":90,"scale":177,"translate":[177,177]}},
        {"data":{"sphere":true},"mark":{"type":"geoshape","filled":false,"stroke":"#1a1a1a","strokeWidth":1.3},"projection":{"type":"stereographic","clipAngle":90,"scale":177,"translate":[177,177]}},
        {"data":{"name":"frame"},"mark":{"type":"point","filled":false,"stroke":"#222222","strokeWidth":1,"size":100,"opacity":1},"encoding":{"x":{"field":"x","type":"quantitative","scale":{"domain":[-1,1],"nice":false,"zero":false},"axis":null},"y":{"field":"y","type":"quantitative","scale":{"domain":[-1,1],"nice":false,"zero":false},"axis":null},"shape":{"field":"d","type":"nominal","scale":{"domain":["N","S","W","E","C"],"range":["M0,0.2L0,-1","M0,-0.2L0,1","M0.2,0L-1,0","M-0.2,0L1,0","M-0.9,0L0.9,0M0,-0.9L0,0.9"]},"legend":null}}},
        {"data":{"name":"pts"},"transform":[{"filter":"datum.p == 20 && datum.k == 'g'"}],"mark":{"type":"point","filled":true,"fill":"#ffffff","stroke":"#8c8c8c","strokeWidth":0.8,"size":11,"opacity":1},"encoding":{"x":{"field":"x","type":"quantitative"},"y":{"field":"y","type":"quantitative"}}},
        {"data":{"name":"pts"},"transform":[{"filter":"datum.p == 20 && datum.k == 'b'"}],"mark":{"type":"point","filled":true,"fill":"#000000","stroke":"#a8a8a8","strokeWidth":0.7,"size":14,"opacity":1},"encoding":{"x":{"field":"x","type":"quantitative"},"y":{"field":"y","type":"quantitative"}}},
        {"data":{"name":"targets"},"mark":{"type":"point","filled":false,"fill":"#ffffff","stroke":"#f5cc00","strokeWidth":2.3,"size":90,"opacity":1},"encoding":{"x":{"field":"x","type":"quantitative"},"y":{"field":"y","type":"quantitative"}}},
        {"data":{"name":"targets"},"mark":{"type":"point","filled":true,"fill":"#000000","size":10,"opacity":1},"encoding":{"x":{"field":"x","type":"quantitative"},"y":{"field":"y","type":"quantitative"}}}
       ]},
      {"width":354,"height":354,"title":{"text":["Model: 5","Space angle: 30°"],"anchor":"start","frame":"group","orient":"top","offset":-75,"dx":106,"font":"Liberation Sans","fontSize":23,"fontWeight":"bold","color":"#000000","lineHeight":27.5},
       "layer":[
        {"data":{"graticule":{"stepMinor":[2,2],"extentMinor":[[-90,-75],[90.01,75]]}},"mark":{"type":"geoshape","filled":false,"stroke":"#e6e6e6","strokeWidth":0.7},"projection":{"type":"stereographic","clipAngle":90,"scale":177,"translate":[177,177]}},
        {"data":{"graticule":{"stepMinor":[2,2],"extentMinor":[[-84,-76],[84.01,76]]}},"mark":{"type":"geoshape","filled":false,"stroke":"#e6e6e6","strokeWidth":0.7},"projection":{"type":"stereographic","clipAngle":90,"scale":177,"translate":[177,177]}},
        {"data":{"graticule":{"stepMinor":[2,2],"extentMinor":[[-76,-77],[76.01,77]]}},"mark":{"type":"geoshape","filled":false,"stroke":"#e6e6e6","strokeWidth":0.7},"projection":{"type":"stereographic","clipAngle":90,"scale":177,"translate":[177,177]}},
        {"data":{"graticule":{"stepMinor":[2,2],"extentMinor":[[-60,-78],[60.01,78]]}},"mark":{"type":"geoshape","filled":false,"stroke":"#e6e6e6","strokeWidth":0.7},"projection":{"type":"stereographic","clipAngle":90,"scale":177,"translate":[177,177]}},
        {"data":{"graticule":{"stepMinor":[2,2],"extentMinor":[[-40,-79],[40.01,79]]}},"mark":{"type":"geoshape","filled":false,"stroke":"#e6e6e6","strokeWidth":0.7},"projection":{"type":"stereographic","clipAngle":90,"scale":177,"translate":[177,177]}},
        {"data":{"graticule":{"stepMinor":[2,2],"extentMinor":[[-20,-80.01],[20.01,80.01]]}},"mark":{"type":"geoshape","filled":false,"stroke":"#e6e6e6","strokeWidth":0.7},"projection":{"type":"stereographic","clipAngle":90,"scale":177,"translate":[177,177]}},
        {"data":{"graticule":{"stepMinor":[10,2],"extentMinor":[[-90,-90],[90.01,90]]}},"mark":{"type":"geoshape","filled":false,"stroke":"#e6e6e6","strokeWidth":0.7},"projection":{"type":"stereographic","clipAngle":90,"scale":177,"translate":[177,177]}},
        {"data":{"graticule":{"stepMinor":[10,10],"extentMinor":[[-90,-76],[90.01,76]]}},"mark":{"type":"geoshape","filled":false,"stroke":"#d3d3d3","strokeWidth":0.8},"projection":{"type":"stereographic","clipAngle":90,"scale":177,"translate":[177,177]}},
        {"data":{"graticule":{"stepMinor":[10,10],"extentMinor":[[-40,-79],[40.01,79]]}},"mark":{"type":"geoshape","filled":false,"stroke":"#d3d3d3","strokeWidth":0.8},"projection":{"type":"stereographic","clipAngle":90,"scale":177,"translate":[177,177]}},
        {"data":{"sphere":true},"mark":{"type":"geoshape","filled":false,"stroke":"#1a1a1a","strokeWidth":1.3},"projection":{"type":"stereographic","clipAngle":90,"scale":177,"translate":[177,177]}},
        {"data":{"name":"frame"},"mark":{"type":"point","filled":false,"stroke":"#222222","strokeWidth":1,"size":100,"opacity":1},"encoding":{"x":{"field":"x","type":"quantitative","scale":{"domain":[-1,1],"nice":false,"zero":false},"axis":null},"y":{"field":"y","type":"quantitative","scale":{"domain":[-1,1],"nice":false,"zero":false},"axis":null},"shape":{"field":"d","type":"nominal","scale":{"domain":["N","S","W","E","C"],"range":["M0,0.2L0,-1","M0,-0.2L0,1","M0.2,0L-1,0","M-0.2,0L1,0","M-0.9,0L0.9,0M0,-0.9L0,0.9"]},"legend":null}}},
        {"data":{"name":"pts"},"transform":[{"filter":"datum.p == 30 && datum.k == 'g'"}],"mark":{"type":"point","filled":true,"fill":"#ffffff","stroke":"#8c8c8c","strokeWidth":0.8,"size":11,"opacity":1},"encoding":{"x":{"field":"x","type":"quantitative"},"y":{"field":"y","type":"quantitative"}}},
        {"data":{"name":"pts"},"transform":[{"filter":"datum.p == 30 && datum.k == 'b'"}],"mark":{"type":"point","filled":true,"fill":"#000000","stroke":"#a8a8a8","strokeWidth":0.7,"size":14,"opacity":1},"encoding":{"x":{"field":"x","type":"quantitative"},"y":{"field":"y","type":"quantitative"}}},
        {"data":{"name":"targets"},"mark":{"type":"point","filled":false,"fill":"#ffffff","stroke":"#f5cc00","strokeWidth":2.3,"size":90,"opacity":1},"encoding":{"x":{"field":"x","type":"quantitative"},"y":{"field":"y","type":"quantitative"}}},
        {"data":{"name":"targets"},"mark":{"type":"point","filled":true,"fill":"#000000","size":10,"opacity":1},"encoding":{"x":{"field":"x","type":"quantitative"},"y":{"field":"y","type":"quantitative"}}}
       ]}
    ]},
    {"spacing": 13, "bounds": "flush", "hconcat": [
      {"width":354,"height":354,"title":{"text":["Model: 5","Space angle: 40°"],"anchor":"start","frame":"group","orient":"top","offset":-75,"dx":109,"font":"Liberation Sans","fontSize":23,"fontWeight":"bold","color":"#000000","lineHeight":27.5},
       "layer":[
        {"data":{"graticule":{"stepMinor":[2,2],"extentMinor":[[-90,-75],[90.01,75]]}},"mark":{"type":"geoshape","filled":false,"stroke":"#e6e6e6","strokeWidth":0.7},"projection":{"type":"stereographic","clipAngle":90,"scale":177,"translate":[177,177]}},
        {"data":{"graticule":{"stepMinor":[2,2],"extentMinor":[[-84,-76],[84.01,76]]}},"mark":{"type":"geoshape","filled":false,"stroke":"#e6e6e6","strokeWidth":0.7},"projection":{"type":"stereographic","clipAngle":90,"scale":177,"translate":[177,177]}},
        {"data":{"graticule":{"stepMinor":[2,2],"extentMinor":[[-76,-77],[76.01,77]]}},"mark":{"type":"geoshape","filled":false,"stroke":"#e6e6e6","strokeWidth":0.7},"projection":{"type":"stereographic","clipAngle":90,"scale":177,"translate":[177,177]}},
        {"data":{"graticule":{"stepMinor":[2,2],"extentMinor":[[-60,-78],[60.01,78]]}},"mark":{"type":"geoshape","filled":false,"stroke":"#e6e6e6","strokeWidth":0.7},"projection":{"type":"stereographic","clipAngle":90,"scale":177,"translate":[177,177]}},
        {"data":{"graticule":{"stepMinor":[2,2],"extentMinor":[[-40,-79],[40.01,79]]}},"mark":{"type":"geoshape","filled":false,"stroke":"#e6e6e6","strokeWidth":0.7},"projection":{"type":"stereographic","clipAngle":90,"scale":177,"translate":[177,177]}},
        {"data":{"graticule":{"stepMinor":[2,2],"extentMinor":[[-20,-80.01],[20.01,80.01]]}},"mark":{"type":"geoshape","filled":false,"stroke":"#e6e6e6","strokeWidth":0.7},"projection":{"type":"stereographic","clipAngle":90,"scale":177,"translate":[177,177]}},
        {"data":{"graticule":{"stepMinor":[10,2],"extentMinor":[[-90,-90],[90.01,90]]}},"mark":{"type":"geoshape","filled":false,"stroke":"#e6e6e6","strokeWidth":0.7},"projection":{"type":"stereographic","clipAngle":90,"scale":177,"translate":[177,177]}},
        {"data":{"graticule":{"stepMinor":[10,10],"extentMinor":[[-90,-76],[90.01,76]]}},"mark":{"type":"geoshape","filled":false,"stroke":"#d3d3d3","strokeWidth":0.8},"projection":{"type":"stereographic","clipAngle":90,"scale":177,"translate":[177,177]}},
        {"data":{"graticule":{"stepMinor":[10,10],"extentMinor":[[-40,-79],[40.01,79]]}},"mark":{"type":"geoshape","filled":false,"stroke":"#d3d3d3","strokeWidth":0.8},"projection":{"type":"stereographic","clipAngle":90,"scale":177,"translate":[177,177]}},
        {"data":{"sphere":true},"mark":{"type":"geoshape","filled":false,"stroke":"#1a1a1a","strokeWidth":1.3},"projection":{"type":"stereographic","clipAngle":90,"scale":177,"translate":[177,177]}},
        {"data":{"name":"frame"},"mark":{"type":"point","filled":false,"stroke":"#222222","strokeWidth":1,"size":100,"opacity":1},"encoding":{"x":{"field":"x","type":"quantitative","scale":{"domain":[-1,1],"nice":false,"zero":false},"axis":null},"y":{"field":"y","type":"quantitative","scale":{"domain":[-1,1],"nice":false,"zero":false},"axis":null},"shape":{"field":"d","type":"nominal","scale":{"domain":["N","S","W","E","C"],"range":["M0,0.2L0,-1","M0,-0.2L0,1","M0.2,0L-1,0","M-0.2,0L1,0","M-0.9,0L0.9,0M0,-0.9L0,0.9"]},"legend":null}}},
        {"data":{"name":"pts"},"transform":[{"filter":"datum.p == 40 && datum.k == 'g'"}],"mark":{"type":"point","filled":true,"fill":"#ffffff","stroke":"#8c8c8c","strokeWidth":0.8,"size":11,"opacity":1},"encoding":{"x":{"field":"x","type":"quantitative"},"y":{"field":"y","type":"quantitative"}}},
        {"data":{"name":"pts"},"transform":[{"filter":"datum.p == 40 && datum.k == 'b'"}],"mark":{"type":"point","filled":true,"fill":"#000000","stroke":"#a8a8a8","strokeWidth":0.7,"size":14,"opacity":1},"encoding":{"x":{"field":"x","type":"quantitative"},"y":{"field":"y","type":"quantitative"}}},
        {"data":{"name":"targets"},"mark":{"type":"point","filled":false,"fill":"#ffffff","stroke":"#f5cc00","strokeWidth":2.3,"size":90,"opacity":1},"encoding":{"x":{"field":"x","type":"quantitative"},"y":{"field":"y","type":"quantitative"}}},
        {"data":{"name":"targets"},"mark":{"type":"point","filled":true,"fill":"#000000","size":10,"opacity":1},"encoding":{"x":{"field":"x","type":"quantitative"},"y":{"field":"y","type":"quantitative"}}}
       ]},
      {"width":354,"height":354,"title":{"text":["Model: 5","Space angle: 50°"],"anchor":"start","frame":"group","orient":"top","offset":-75,"dx":109,"font":"Liberation Sans","fontSize":23,"fontWeight":"bold","color":"#000000","lineHeight":27.5},
       "layer":[
        {"data":{"graticule":{"stepMinor":[2,2],"extentMinor":[[-90,-75],[90.01,75]]}},"mark":{"type":"geoshape","filled":false,"stroke":"#e6e6e6","strokeWidth":0.7},"projection":{"type":"stereographic","clipAngle":90,"scale":177,"translate":[177,177]}},
        {"data":{"graticule":{"stepMinor":[2,2],"extentMinor":[[-84,-76],[84.01,76]]}},"mark":{"type":"geoshape","filled":false,"stroke":"#e6e6e6","strokeWidth":0.7},"projection":{"type":"stereographic","clipAngle":90,"scale":177,"translate":[177,177]}},
        {"data":{"graticule":{"stepMinor":[2,2],"extentMinor":[[-76,-77],[76.01,77]]}},"mark":{"type":"geoshape","filled":false,"stroke":"#e6e6e6","strokeWidth":0.7},"projection":{"type":"stereographic","clipAngle":90,"scale":177,"translate":[177,177]}},
        {"data":{"graticule":{"stepMinor":[2,2],"extentMinor":[[-60,-78],[60.01,78]]}},"mark":{"type":"geoshape","filled":false,"stroke":"#e6e6e6","strokeWidth":0.7},"projection":{"type":"stereographic","clipAngle":90,"scale":177,"translate":[177,177]}},
        {"data":{"graticule":{"stepMinor":[2,2],"extentMinor":[[-40,-79],[40.01,79]]}},"mark":{"type":"geoshape","filled":false,"stroke":"#e6e6e6","strokeWidth":0.7},"projection":{"type":"stereographic","clipAngle":90,"scale":177,"translate":[177,177]}},
        {"data":{"graticule":{"stepMinor":[2,2],"extentMinor":[[-20,-80.01],[20.01,80.01]]}},"mark":{"type":"geoshape","filled":false,"stroke":"#e6e6e6","strokeWidth":0.7},"projection":{"type":"stereographic","clipAngle":90,"scale":177,"translate":[177,177]}},
        {"data":{"graticule":{"stepMinor":[10,2],"extentMinor":[[-90,-90],[90.01,90]]}},"mark":{"type":"geoshape","filled":false,"stroke":"#e6e6e6","strokeWidth":0.7},"projection":{"type":"stereographic","clipAngle":90,"scale":177,"translate":[177,177]}},
        {"data":{"graticule":{"stepMinor":[10,10],"extentMinor":[[-90,-76],[90.01,76]]}},"mark":{"type":"geoshape","filled":false,"stroke":"#d3d3d3","strokeWidth":0.8},"projection":{"type":"stereographic","clipAngle":90,"scale":177,"translate":[177,177]}},
        {"data":{"graticule":{"stepMinor":[10,10],"extentMinor":[[-40,-79],[40.01,79]]}},"mark":{"type":"geoshape","filled":false,"stroke":"#d3d3d3","strokeWidth":0.8},"projection":{"type":"stereographic","clipAngle":90,"scale":177,"translate":[177,177]}},
        {"data":{"sphere":true},"mark":{"type":"geoshape","filled":false,"stroke":"#1a1a1a","strokeWidth":1.3},"projection":{"type":"stereographic","clipAngle":90,"scale":177,"translate":[177,177]}},
        {"data":{"name":"frame"},"mark":{"type":"point","filled":false,"stroke":"#222222","strokeWidth":1,"size":100,"opacity":1},"encoding":{"x":{"field":"x","type":"quantitative","scale":{"domain":[-1,1],"nice":false,"zero":false},"axis":null},"y":{"field":"y","type":"quantitative","scale":{"domain":[-1,1],"nice":false,"zero":false},"axis":null},"shape":{"field":"d","type":"nominal","scale":{"domain":["N","S","W","E","C"],"range":["M0,0.2L0,-1","M0,-0.2L0,1","M0.2,0L-1,0","M-0.2,0L1,0","M-0.9,0L0.9,0M0,-0.9L0,0.9"]},"legend":null}}},
        {"data":{"name":"pts"},"transform":[{"filter":"datum.p == 50 && datum.k == 'g'"}],"mark":{"type":"point","filled":true,"fill":"#ffffff","stroke":"#8c8c8c","strokeWidth":0.8,"size":11,"opacity":1},"encoding":{"x":{"field":"x","type":"quantitative"},"y":{"field":"y","type":"quantitative"}}},
        {"data":{"name":"pts"},"transform":[{"filter":"datum.p == 50 && datum.k == 'b'"}],"mark":{"type":"point","filled":true,"fill":"#000000","stroke":"#a8a8a8","strokeWidth":0.7,"size":14,"opacity":1},"encoding":{"x":{"field":"x","type":"quantitative"},"y":{"field":"y","type":"quantitative"}}},
        {"data":{"name":"targets"},"mark":{"type":"point","filled":false,"fill":"#ffffff","stroke":"#f5cc00","strokeWidth":2.3,"size":90,"opacity":1},"encoding":{"x":{"field":"x","type":"quantitative"},"y":{"field":"y","type":"quantitative"}}},
        {"data":{"name":"targets"},"mark":{"type":"point","filled":true,"fill":"#000000","size":10,"opacity":1},"encoding":{"x":{"field":"x","type":"quantitative"},"y":{"field":"y","type":"quantitative"}}}
       ]},
      {"width":354,"height":354,"title":{"text":["Model: 5","Space angle: 60°"],"anchor":"start","frame":"group","orient":"top","offset":-75,"dx":107,"font":"Liberation Sans","fontSize":23,"fontWeight":"bold","color":"#000000","lineHeight":27.5},
       "layer":[
        {"data":{"graticule":{"stepMinor":[2,2],"extentMinor":[[-90,-75],[90.01,75]]}},"mark":{"type":"geoshape","filled":false,"stroke":"#e6e6e6","strokeWidth":0.7},"projection":{"type":"stereographic","clipAngle":90,"scale":177,"translate":[177,177]}},
        {"data":{"graticule":{"stepMinor":[2,2],"extentMinor":[[-84,-76],[84.01,76]]}},"mark":{"type":"geoshape","filled":false,"stroke":"#e6e6e6","strokeWidth":0.7},"projection":{"type":"stereographic","clipAngle":90,"scale":177,"translate":[177,177]}},
        {"data":{"graticule":{"stepMinor":[2,2],"extentMinor":[[-76,-77],[76.01,77]]}},"mark":{"type":"geoshape","filled":false,"stroke":"#e6e6e6","strokeWidth":0.7},"projection":{"type":"stereographic","clipAngle":90,"scale":177,"translate":[177,177]}},
        {"data":{"graticule":{"stepMinor":[2,2],"extentMinor":[[-60,-78],[60.01,78]]}},"mark":{"type":"geoshape","filled":false,"stroke":"#e6e6e6","strokeWidth":0.7},"projection":{"type":"stereographic","clipAngle":90,"scale":177,"translate":[177,177]}},
        {"data":{"graticule":{"stepMinor":[2,2],"extentMinor":[[-40,-79],[40.01,79]]}},"mark":{"type":"geoshape","filled":false,"stroke":"#e6e6e6","strokeWidth":0.7},"projection":{"type":"stereographic","clipAngle":90,"scale":177,"translate":[177,177]}},
        {"data":{"graticule":{"stepMinor":[2,2],"extentMinor":[[-20,-80.01],[20.01,80.01]]}},"mark":{"type":"geoshape","filled":false,"stroke":"#e6e6e6","strokeWidth":0.7},"projection":{"type":"stereographic","clipAngle":90,"scale":177,"translate":[177,177]}},
        {"data":{"graticule":{"stepMinor":[10,2],"extentMinor":[[-90,-90],[90.01,90]]}},"mark":{"type":"geoshape","filled":false,"stroke":"#e6e6e6","strokeWidth":0.7},"projection":{"type":"stereographic","clipAngle":90,"scale":177,"translate":[177,177]}},
        {"data":{"graticule":{"stepMinor":[10,10],"extentMinor":[[-90,-76],[90.01,76]]}},"mark":{"type":"geoshape","filled":false,"stroke":"#d3d3d3","strokeWidth":0.8},"projection":{"type":"stereographic","clipAngle":90,"scale":177,"translate":[177,177]}},
        {"data":{"graticule":{"stepMinor":[10,10],"extentMinor":[[-40,-79],[40.01,79]]}},"mark":{"type":"geoshape","filled":false,"stroke":"#d3d3d3","strokeWidth":0.8},"projection":{"type":"stereographic","clipAngle":90,"scale":177,"translate":[177,177]}},
        {"data":{"sphere":true},"mark":{"type":"geoshape","filled":false,"stroke":"#1a1a1a","strokeWidth":1.3},"projection":{"type":"stereographic","clipAngle":90,"scale":177,"translate":[177,177]}},
        {"data":{"name":"frame"},"mark":{"type":"point","filled":false,"stroke":"#222222","strokeWidth":1,"size":100,"opacity":1},"encoding":{"x":{"field":"x","type":"quantitative","scale":{"domain":[-1,1],"nice":false,"zero":false},"axis":null},"y":{"field":"y","type":"quantitative","scale":{"domain":[-1,1],"nice":false,"zero":false},"axis":null},"shape":{"field":"d","type":"nominal","scale":{"domain":["N","S","W","E","C"],"range":["M0,0.2L0,-1","M0,-0.2L0,1","M0.2,0L-1,0","M-0.2,0L1,0","M-0.9,0L0.9,0M0,-0.9L0,0.9"]},"legend":null}}},
        {"data":{"name":"pts"},"transform":[{"filter":"datum.p == 60 && datum.k == 'g'"}],"mark":{"type":"point","filled":true,"fill":"#ffffff","stroke":"#8c8c8c","strokeWidth":0.8,"size":11,"opacity":1},"encoding":{"x":{"field":"x","type":"quantitative"},"y":{"field":"y","type":"quantitative"}}},
        {"data":{"name":"pts"},"transform":[{"filter":"datum.p == 60 && datum.k == 'b'"}],"mark":{"type":"point","filled":true,"fill":"#000000","stroke":"#a8a8a8","strokeWidth":0.7,"size":14,"opacity":1},"encoding":{"x":{"field":"x","type":"quantitative"},"y":{"field":"y","type":"quantitative"}}},
        {"data":{"name":"targets"},"mark":{"type":"point","filled":false,"fill":"#ffffff","stroke":"#f5cc00","strokeWidth":2.3,"size":90,"opacity":1},"encoding":{"x":{"field":"x","type":"quantitative"},"y":{"field":"y","type":"quantitative"}}},
        {"data":{"name":"targets"},"mark":{"type":"point","filled":true,"fill":"#000000","size":10,"opacity":1},"encoding":{"x":{"field":"x","type":"quantitative"},"y":{"field":"y","type":"quantitative"}}}
       ]}
    ]},
    {"spacing": 16, "bounds": "flush", "hconcat": [
      {"width":354,"height":354,"title":{"text":["Model: 5","Space angle: 70°"],"anchor":"start","frame":"group","orient":"top","offset":-75,"dx":109,"font":"Liberation Sans","fontSize":23,"fontWeight":"bold","color":"#000000","lineHeight":27.5},
       "layer":[
        {"data":{"graticule":{"stepMinor":[2,2],"extentMinor":[[-90,-75],[90.01,75]]}},"mark":{"type":"geoshape","filled":false,"stroke":"#e6e6e6","strokeWidth":0.7},"projection":{"type":"stereographic","clipAngle":90,"scale":177,"translate":[177,177]}},
        {"data":{"graticule":{"stepMinor":[2,2],"extentMinor":[[-84,-76],[84.01,76]]}},"mark":{"type":"geoshape","filled":false,"stroke":"#e6e6e6","strokeWidth":0.7},"projection":{"type":"stereographic","clipAngle":90,"scale":177,"translate":[177,177]}},
        {"data":{"graticule":{"stepMinor":[2,2],"extentMinor":[[-76,-77],[76.01,77]]}},"mark":{"type":"geoshape","filled":false,"stroke":"#e6e6e6","strokeWidth":0.7},"projection":{"type":"stereographic","clipAngle":90,"scale":177,"translate":[177,177]}},
        {"data":{"graticule":{"stepMinor":[2,2],"extentMinor":[[-60,-78],[60.01,78]]}},"mark":{"type":"geoshape","filled":false,"stroke":"#e6e6e6","strokeWidth":0.7},"projection":{"type":"stereographic","clipAngle":90,"scale":177,"translate":[177,177]}},
        {"data":{"graticule":{"stepMinor":[2,2],"extentMinor":[[-40,-79],[40.01,79]]}},"mark":{"type":"geoshape","filled":false,"stroke":"#e6e6e6","strokeWidth":0.7},"projection":{"type":"stereographic","clipAngle":90,"scale":177,"translate":[177,177]}},
        {"data":{"graticule":{"stepMinor":[2,2],"extentMinor":[[-20,-80.01],[20.01,80.01]]}},"mark":{"type":"geoshape","filled":false,"stroke":"#e6e6e6","strokeWidth":0.7},"projection":{"type":"stereographic","clipAngle":90,"scale":177,"translate":[177,177]}},
        {"data":{"graticule":{"stepMinor":[10,2],"extentMinor":[[-90,-90],[90.01,90]]}},"mark":{"type":"geoshape","filled":false,"stroke":"#e6e6e6","strokeWidth":0.7},"projection":{"type":"stereographic","clipAngle":90,"scale":177,"translate":[177,177]}},
        {"data":{"graticule":{"stepMinor":[10,10],"extentMinor":[[-90,-76],[90.01,76]]}},"mark":{"type":"geoshape","filled":false,"stroke":"#d3d3d3","strokeWidth":0.8},"projection":{"type":"stereographic","clipAngle":90,"scale":177,"translate":[177,177]}},
        {"data":{"graticule":{"stepMinor":[10,10],"extentMinor":[[-40,-79],[40.01,79]]}},"mark":{"type":"geoshape","filled":false,"stroke":"#d3d3d3","strokeWidth":0.8},"projection":{"type":"stereographic","clipAngle":90,"scale":177,"translate":[177,177]}},
        {"data":{"sphere":true},"mark":{"type":"geoshape","filled":false,"stroke":"#1a1a1a","strokeWidth":1.3},"projection":{"type":"stereographic","clipAngle":90,"scale":177,"translate":[177,177]}},
        {"data":{"name":"frame"},"mark":{"type":"point","filled":false,"stroke":"#222222","strokeWidth":1,"size":100,"opacity":1},"encoding":{"x":{"field":"x","type":"quantitative","scale":{"domain":[-1,1],"nice":false,"zero":false},"axis":null},"y":{"field":"y","type":"quantitative","scale":{"domain":[-1,1],"nice":false,"zero":false},"axis":null},"shape":{"field":"d","type":"nominal","scale":{"domain":["N","S","W","E","C"],"range":["M0,0.2L0,-1","M0,-0.2L0,1","M0.2,0L-1,0","M-0.2,0L1,0","M-0.9,0L0.9,0M0,-0.9L0,0.9"]},"legend":null}}},
        {"data":{"name":"pts"},"transform":[{"filter":"datum.p == 70 && datum.k == 'g'"}],"mark":{"type":"point","filled":true,"fill":"#ffffff","stroke":"#8c8c8c","strokeWidth":0.8,"size":11,"opacity":1},"encoding":{"x":{"field":"x","type":"quantitative"},"y":{"field":"y","type":"quantitative"}}},
        {"data":{"name":"pts"},"transform":[{"filter":"datum.p == 70 && datum.k == 'b'"}],"mark":{"type":"point","filled":true,"fill":"#000000","stroke":"#a8a8a8","strokeWidth":0.7,"size":14,"opacity":1},"encoding":{"x":{"field":"x","type":"quantitative"},"y":{"field":"y","type":"quantitative"}}},
        {"data":{"name":"targets"},"mark":{"type":"point","filled":false,"fill":"#ffffff","stroke":"#f5cc00","strokeWidth":2.3,"size":90,"opacity":1},"encoding":{"x":{"field":"x","type":"quantitative"},"y":{"field":"y","type":"quantitative"}}},
        {"data":{"name":"targets"},"mark":{"type":"point","filled":true,"fill":"#000000","size":10,"opacity":1},"encoding":{"x":{"field":"x","type":"quantitative"},"y":{"field":"y","type":"quantitative"}}}
       ]},
      {"width":354,"height":354,"title":{"text":["Model: 5","Space angle: 80°"],"anchor":"start","frame":"group","orient":"top","offset":-75,"dx":109,"font":"Liberation Sans","fontSize":23,"fontWeight":"bold","color":"#000000","lineHeight":27.5},
       "layer":[
        {"data":{"graticule":{"stepMinor":[2,2],"extentMinor":[[-90,-75],[90.01,75]]}},"mark":{"type":"geoshape","filled":false,"stroke":"#e6e6e6","strokeWidth":0.7},"projection":{"type":"stereographic","clipAngle":90,"scale":177,"translate":[177,177]}},
        {"data":{"graticule":{"stepMinor":[2,2],"extentMinor":[[-84,-76],[84.01,76]]}},"mark":{"type":"geoshape","filled":false,"stroke":"#e6e6e6","strokeWidth":0.7},"projection":{"type":"stereographic","clipAngle":90,"scale":177,"translate":[177,177]}},
        {"data":{"graticule":{"stepMinor":[2,2],"extentMinor":[[-76,-77],[76.01,77]]}},"mark":{"type":"geoshape","filled":false,"stroke":"#e6e6e6","strokeWidth":0.7},"projection":{"type":"stereographic","clipAngle":90,"scale":177,"translate":[177,177]}},
        {"data":{"graticule":{"stepMinor":[2,2],"extentMinor":[[-60,-78],[60.01,78]]}},"mark":{"type":"geoshape","filled":false,"stroke":"#e6e6e6","strokeWidth":0.7},"projection":{"type":"stereographic","clipAngle":90,"scale":177,"translate":[177,177]}},
        {"data":{"graticule":{"stepMinor":[2,2],"extentMinor":[[-40,-79],[40.01,79]]}},"mark":{"type":"geoshape","filled":false,"stroke":"#e6e6e6","strokeWidth":0.7},"projection":{"type":"stereographic","clipAngle":90,"scale":177,"translate":[177,177]}},
        {"data":{"graticule":{"stepMinor":[2,2],"extentMinor":[[-20,-80.01],[20.01,80.01]]}},"mark":{"type":"geoshape","filled":false,"stroke":"#e6e6e6","strokeWidth":0.7},"projection":{"type":"stereographic","clipAngle":90,"scale":177,"translate":[177,177]}},
        {"data":{"graticule":{"stepMinor":[10,2],"extentMinor":[[-90,-90],[90.01,90]]}},"mark":{"type":"geoshape","filled":false,"stroke":"#e6e6e6","strokeWidth":0.7},"projection":{"type":"stereographic","clipAngle":90,"scale":177,"translate":[177,177]}},
        {"data":{"graticule":{"stepMinor":[10,10],"extentMinor":[[-90,-76],[90.01,76]]}},"mark":{"type":"geoshape","filled":false,"stroke":"#d3d3d3","strokeWidth":0.8},"projection":{"type":"stereographic","clipAngle":90,"scale":177,"translate":[177,177]}},
        {"data":{"graticule":{"stepMinor":[10,10],"extentMinor":[[-40,-79],[40.01,79]]}},"mark":{"type":"geoshape","filled":false,"stroke":"#d3d3d3","strokeWidth":0.8},"projection":{"type":"stereographic","clipAngle":90,"scale":177,"translate":[177,177]}},
        {"data":{"sphere":true},"mark":{"type":"geoshape","filled":false,"stroke":"#1a1a1a","strokeWidth":1.3},"projection":{"type":"stereographic","clipAngle":90,"scale":177,"translate":[177,177]}},
        {"data":{"name":"frame"},"mark":{"type":"point","filled":false,"stroke":"#222222","strokeWidth":1,"size":100,"opacity":1},"encoding":{"x":{"field":"x","type":"quantitative","scale":{"domain":[-1,1],"nice":false,"zero":false},"axis":null},"y":{"field":"y","type":"quantitative","scale":{"domain":[-1,1],"nice":false,"zero":false},"axis":null},"shape":{"field":"d","type":"nominal","scale":{"domain":["N","S","W","E","C"],"range":["M0,0.2L0,-1","M0,-0.2L0,1","M0.2,0L-1,0","M-0.2,0L1,0","M-0.9,0L0.9,0M0,-0.9L0,0.9"]},"legend":null}}},
        {"data":{"name":"pts"},"transform":[{"filter":"datum.p == 80 && datum.k == 'g'"}],"mark":{"type":"point","filled":true,"fill":"#ffffff","stroke":"#8c8c8c","strokeWidth":0.8,"size":11,"opacity":1},"encoding":{"x":{"field":"x","type":"quantitative"},"y":{"field":"y","type":"quantitative"}}},
        {"data":{"name":"pts"},"transform":[{"filter":"datum.p == 80 && datum.k == 'b'"}],"mark":{"type":"point","filled":true,"fill":"#000000","stroke":"#a8a8a8","strokeWidth":0.7,"size":14,"opacity":1},"encoding":{"x":{"field":"x","type":"quantitative"},"y":{"field":"y","type":"quantitative"}}},
        {"data":{"name":"targets"},"mark":{"type":"point","filled":false,"fill":"#ffffff","stroke":"#f5cc00","strokeWidth":2.3,"size":90,"opacity":1},"encoding":{"x":{"field":"x","type":"quantitative"},"y":{"field":"y","type":"quantitative"}}},
        {"data":{"name":"targets"},"mark":{"type":"point","filled":true,"fill":"#000000","size":10,"opacity":1},"encoding":{"x":{"field":"x","type":"quantitative"},"y":{"field":"y","type":"quantitative"}}}
       ]},
      {"width":354,"height":354,"title":{"text":["Model: 5","Space angle: 90°"],"anchor":"start","frame":"group","orient":"top","offset":-75,"dx":109,"font":"Liberation Sans","fontSize":23,"fontWeight":"bold","color":"#000000","lineHeight":27.5},
       "layer":[
        {"data":{"graticule":{"stepMinor":[2,2],"extentMinor":[[-90,-75],[90.01,75]]}},"mark":{"type":"geoshape","filled":false,"stroke":"#e6e6e6","strokeWidth":0.7},"projection":{"type":"stereographic","clipAngle":90,"scale":177,"translate":[177,177]}},
        {"data":{"graticule":{"stepMinor":[2,2],"extentMinor":[[-84,-76],[84.01,76]]}},"mark":{"type":"geoshape","filled":false,"stroke":"#e6e6e6","strokeWidth":0.7},"projection":{"type":"stereographic","clipAngle":90,"scale":177,"translate":[177,177]}},
        {"data":{"graticule":{"stepMinor":[2,2],"extentMinor":[[-76,-77],[76.01,77]]}},"mark":{"type":"geoshape","filled":false,"stroke":"#e6e6e6","strokeWidth":0.7},"projection":{"type":"stereographic","clipAngle":90,"scale":177,"translate":[177,177]}},
        {"data":{"graticule":{"stepMinor":[2,2],"extentMinor":[[-60,-78],[60.01,78]]}},"mark":{"type":"geoshape","filled":false,"stroke":"#e6e6e6","strokeWidth":0.7},"projection":{"type":"stereographic","clipAngle":90,"scale":177,"translate":[177,177]}},
        {"data":{"graticule":{"stepMinor":[2,2],"extentMinor":[[-40,-79],[40.01,79]]}},"mark":{"type":"geoshape","filled":false,"stroke":"#e6e6e6","strokeWidth":0.7},"projection":{"type":"stereographic","clipAngle":90,"scale":177,"translate":[177,177]}},
        {"data":{"graticule":{"stepMinor":[2,2],"extentMinor":[[-20,-80.01],[20.01,80.01]]}},"mark":{"type":"geoshape","filled":false,"stroke":"#e6e6e6","strokeWidth":0.7},"projection":{"type":"stereographic","clipAngle":90,"scale":177,"translate":[177,177]}},
        {"data":{"graticule":{"stepMinor":[10,2],"extentMinor":[[-90,-90],[90.01,90]]}},"mark":{"type":"geoshape","filled":false,"stroke":"#e6e6e6","strokeWidth":0.7},"projection":{"type":"stereographic","clipAngle":90,"scale":177,"translate":[177,177]}},
        {"data":{"graticule":{"stepMinor":[10,10],"extentMinor":[[-90,-76],[90.01,76]]}},"mark":{"type":"geoshape","filled":false,"stroke":"#d3d3d3","strokeWidth":0.8},"projection":{"type":"stereographic","clipAngle":90,"scale":177,"translate":[177,177]}},
        {"data":{"graticule":{"stepMinor":[10,10],"extentMinor":[[-40,-79],[40.01,79]]}},"mark":{"type":"geoshape","filled":false,"stroke":"#d3d3d3","strokeWidth":0.8},"projection":{"type":"stereographic","clipAngle":90,"scale":177,"translate":[177,177]}},
        {"data":{"sphere":true},"mark":{"type":"geoshape","filled":false,"stroke":"#1a1a1a","strokeWidth":1.3},"projection":{"type":"stereographic","clipAngle":90,"scale":177,"translate":[177,177]}},
        {"data":{"name":"frame"},"mark":{"type":"point","filled":false,"stroke":"#222222","strokeWidth":1,"size":100,"opacity":1},"encoding":{"x":{"field":"x","type":"quantitative","scale":{"domain":[-1,1],"nice":false,"zero":false},"axis":null},"y":{"field":"y","type":"quantitative","scale":{"domain":[-1,1],"nice":false,"zero":false},"axis":null},"shape":{"field":"d","type":"nominal","scale":{"domain":["N","S","W","E","C"],"range":["M0,0.2L0,-1","M0,-0.2L0,1","M0.2,0L-1,0","M-0.2,0L1,0","M-0.9,0L0.9,0M0,-0.9L0,0.9"]},"legend":null}}},
        {"data":{"name":"pts"},"transform":[{"filter":"datum.p == 90 && datum.k == 'g'"}],"mark":{"type":"point","filled":true,"fill":"#ffffff","stroke":"#8c8c8c","strokeWidth":0.8,"size":11,"opacity":1},"encoding":{"x":{"field":"x","type":"quantitative"},"y":{"field":"y","type":"quantitative"}}},
        {"data":{"name":"pts"},"transform":[{"filter":"datum.p == 90 && datum.k == 'b'"}],"mark":{"type":"point","filled":true,"fill":"#000000","stroke":"#a8a8a8","strokeWidth":0.7,"size":14,"opacity":1},"encoding":{"x":{"field":"x","type":"quantitative"},"y":{"field":"y","type":"quantitative"}}},
        {"data":{"name":"targets"},"mark":{"type":"point","filled":false,"fill":"#ffffff","stroke":"#f5cc00","strokeWidth":2.3,"size":90,"opacity":1},"encoding":{"x":{"field":"x","type":"quantitative"},"y":{"field":"y","type":"quantitative"}}},
        {"data":{"name":"targets"},"mark":{"type":"point","filled":true,"fill":"#000000","size":10,"opacity":1},"encoding":{"x":{"field":"x","type":"quantitative"},"y":{"field":"y","type":"quantitative"}}}
       ]}
    ]}
  ]
}
